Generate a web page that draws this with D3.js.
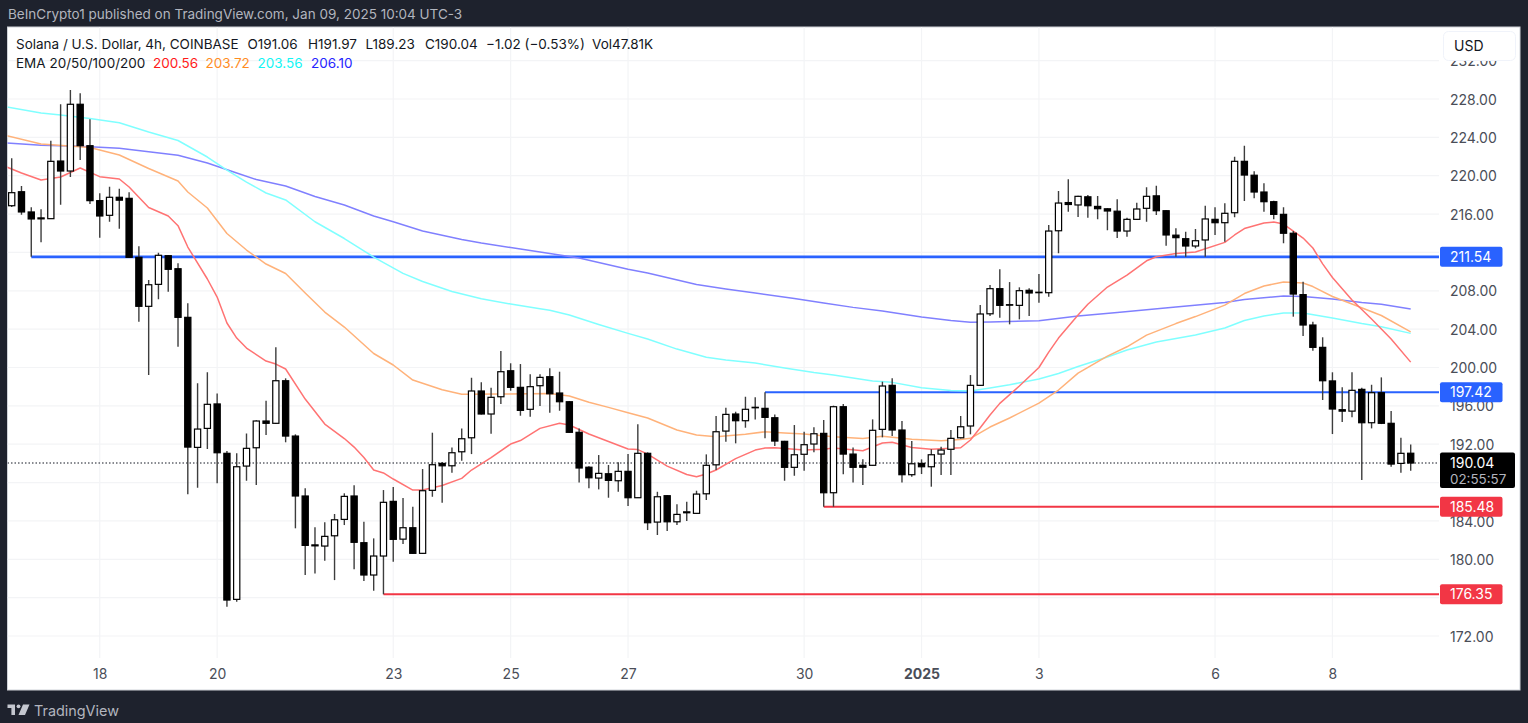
<!DOCTYPE html>
<html>
<head>
<meta charset="utf-8">
<script src="https://cdn.jsdelivr.net/npm/d3@7"></script>
<style>
  html, body { margin: 0; padding: 0; background: #1e222d; overflow: hidden; }
  svg { display: block; }
  text { font-family: Inter, Roboto, sans-serif; }
</style>
</head>
<body>
<div id="chart"></div>
<script>
const candleOpen = [216.87,218.33,216.22,215.6,215.52,221.53,220.49,227.45,223.13,217.4,215.87,217.75,217.64,211.49,206.38,208.67,211.66,210.3,205.23,191.67,193.65,196.2,191.05,175.82,189.72,191.63,194.42,194.18,198.62,192.85,186.6,181.5,181.38,182.45,184.16,186.6,181.73,178.36,180.34,186.04,182.1,183.29,180.62,187.19,190,189.75,191.21,192.67,197.55,195.15,196.95,199.66,197.93,195.64,198.1,199.04,197.34,196.43,193.24,189.6,188.47,188.92,188.19,189.17,186.42,191.05,183.88,186.63,183.91,184.85,184.79,186.83,189.85,193.37,195.15,194.45,195.85,195.74,194.76,192.3,189.59,190.95,192.02,193.13,186.94,195.91,190.97,189.8,189.8,193.55,198.14,193.48,188.82,190,189.65,190.97,191.47,192.67,193.9,198.14,205.6,208.22,206.55,206.48,208.05,207.85,207.8,214.26,217.2,216.95,217.8,216.8,216.55,216.3,214.23,215.45,216.6,217.9,216.35,213.8,213.43,212.67,213.3,215.45,215.1,216.14,221.5,220.05,218.3,217.29,215.97,214,207.6,204.43,202.1,198.6,195.6,195.45,197.72,194.24,197.37,194.18,190,191.06]
const candleHigh = [221.82,218.93,216.7,216.5,223.65,227.45,228.94,228.6,225.88,218.17,218.85,218.65,218.27,212.64,209.12,211.97,211.73,210.86,206.7,198.35,199.5,197.3,191.29,191.05,193.13,194.5,196.53,202.1,198.87,193.03,187.4,183.33,183.85,184.72,186.88,187.71,183.91,182.18,187.22,187.53,186.39,185.48,189.41,193.2,190.14,191.67,193.65,198.93,198.45,197.89,201.72,200.44,200.36,199.29,199.29,199.91,199.56,196.5,193.65,189.7,190.87,189.83,190.11,190.97,194.07,191.15,187.04,186.7,185.73,186,187.15,190.94,194.94,195.8,195.39,196.95,196.89,197.42,195.11,192.35,194,193.3,193.76,194.52,196.02,196.19,191.67,190.42,194.59,198.52,198.87,194.42,192.33,190.42,191.47,191.73,193.48,194.94,199.21,206.52,208.6,210.24,208.91,208.36,208.26,209.75,214.86,218.4,219.62,217.9,217.99,217.88,216.6,217.54,215.62,217.18,218.79,218.96,216.4,214.51,214.16,214.44,216.87,216.7,217.12,221.98,223.13,220.46,219.21,217.4,216.7,214.23,208.95,204.77,203.15,199.5,197.93,199.5,197.89,198.2,198.97,195.46,192.67,191.97]
const candleLow = [216.74,215.93,211.54,213.05,215.5,216.98,219.87,221.64,217.05,213.54,215.2,214.47,211.45,204.77,199.21,207.11,207.9,202.17,186.77,187.46,191.5,187.92,175.05,175.57,188.19,187.74,192.96,194.1,192.2,183.23,178.36,178.53,179.85,177.83,183.57,178.95,177.73,176.72,176.35,179.74,181.59,180.55,180.55,186.52,185.9,189.02,190.28,190.97,195.1,193.09,196.19,197.58,194.97,194.87,195.98,195.28,195.49,193.2,188.02,187.4,187.29,186.42,187.04,185.55,186.4,183.05,182.53,182.94,183.57,183.99,184.75,186.18,189.31,192.26,192.09,193.72,194.59,192.61,191.81,188.19,188.71,189.23,191.15,185.48,185.48,188.86,188.02,187.74,189.75,192.72,192.85,188.02,188.61,188.89,187.57,188.79,188.79,192.6,193.03,198.1,205.37,205.19,204.5,205.02,205.37,206.76,207.38,211.91,216.25,215.69,215.62,215.45,214.31,213.5,213.64,215.38,215.2,215.9,212.7,211.54,211.54,212.43,211.54,213.82,213.12,215.66,217.36,217.64,216.25,215.45,212.95,205.3,203.28,201.75,196.61,193.06,194.31,194.8,188.26,193.65,194.1,189.65,189.02,189.23]
const candleClose = [218.23,216.22,215.49,215.5,221.5,220.49,227.45,223.13,217.4,215.8,217.75,217.45,211.49,206.38,208.63,211.7,210.24,205.23,191.7,193.58,196.16,191.11,175.75,189.65,191.57,194.42,194.18,198.62,192.85,186.6,181.45,181.4,182.39,184.12,186.56,181.77,178.36,180.34,185.94,182.08,183.29,180.62,187.15,189.86,189.75,191.11,192.57,197.55,195.15,196.89,199.56,197.93,195.53,198,198.97,197.26,196.43,193.24,189.52,188.5,188.96,188.23,189.17,186.42,191.05,183.81,186.52,183.91,184.68,184.95,186.8,189.8,193.3,195.11,194.45,195.64,195.8,194.8,192.33,189.59,190.9,191.95,193.09,186.94,195.91,190.97,189.59,189.6,193.45,198.07,193.48,188.82,189.96,189.65,190.9,191.39,192.61,193.82,198.14,205.58,208.22,206.48,206.5,208.01,207.77,207.8,214.23,217.15,217,217.85,216.87,216.56,216.32,214.23,215.45,216.53,217.85,216.35,213.82,213.54,212.67,213.22,215.49,215.1,216.08,221.5,220.07,218.3,217.29,215.97,214,207.66,204.43,202.1,198.62,195.67,195.45,197.62,194.24,197.37,194.18,189.93,191.05,190.04]

// each ema line: candle index it was read at, price there
const ema20 = [[-1,221.12],[1,220.28],[3,219.55],[5,219.87],[7,220.8],[9,219.9],[11,219.66],[12,218.82],[14,216.68],[16,215.8],[17,214.79],[18,212.56],[20,209.23],[21,207.35],[22,204.64],[23,203.07],[24,202.03],[26,200.67],[27,200.36],[28,199.84],[30,196.71],[32,194.1],[34,192.59],[35,191.7],[36,190.61],[37,189.31],[38,189],[39,188.37],[41,187.22],[42,187.22],[43,187.46],[44,187.69],[46,188.44],[47,189.31],[49,190.61],[51,192.02],[52,192.38],[54,193.65],[56,194.18],[57,194],[59,193.06],[61,192.28],[63,191.5],[64,191.44],[65,190.97],[67,189.72],[69,188.84],[70,188.61],[71,188.89],[72,189.31],[74,190.5],[76,191.39],[77,191.6],[78,191.63],[81,191.39],[83,191.47],[84,191.6],[87,191.32],[89,192.12],[90,192.2],[92,191.65],[94,191.47],[97,191.63],[98,192.44],[99,193.72],[100,195.04],[101,196.26],[103,198.07],[105,200],[106,201.61],[107,203.07],[109,205.47],[110,206.59],[112,208.39],[114,209.64],[116,211.13],[117,211.55],[119,211.89],[121,212.04],[124,213.05],[125,213.82],[126,214.49],[128,215.07],[129,215.17],[130,214.96],[132,213.5],[133,212.46],[134,210.8],[135,209.38],[137,207.04],[139,205.05],[141,202.97],[143,200.56]]
const ema50 = [[-1,224.3],[3,223.31],[8,222.94],[11,222.16],[14,220.75],[17,219.45],[18,218.3],[20,216.63],[22,213.97],[24,212.25],[26,210.79],[28,209.8],[30,207.77],[32,205.78],[34,204.22],[37,201.46],[39,200.26],[41,198.69],[44,197.68],[46,197.2],[50,197.23],[55,197.28],[57,197.02],[59,196.37],[61,195.84],[63,195.28],[65,194.73],[68,193.48],[70,192.96],[72,192.78],[75,193.03],[77,193.3],[79,193.16],[81,193.06],[84,192.78],[87,192.59],[89,192.82],[92,192.51],[95,192.36],[97,192.49],[98,192.61],[100,193.79],[102,194.73],[105,196.29],[107,197.65],[109,199.42],[112,201.19],[114,202.16],[116,203.38],[119,204.58],[121,205.31],[124,206.51],[126,207.71],[128,208.5],[130,208.91],[132,208.81],[133,208.44],[135,207.4],[137,206.62],[140,205.42],[143,203.72]]
const ema100 = [[-1,227.27],[3,226.54],[5,226.33],[8,225.97],[11,225.53],[14,224.56],[17,223.67],[20,221.95],[22,220.59],[24,219.34],[26,218.2],[28,217.47],[31,215.2],[34,213.45],[37,211.52],[40,209.82],[42,208.97],[45,207.92],[48,207.17],[51,206.62],[54,206.13],[55,205.96],[57,205.47],[60,204.48],[63,203.56],[65,202.97],[68,201.92],[71,201.06],[73,200.78],[76,200.46],[79,199.94],[82,199.47],[84,199.21],[88,198.59],[90,198.45],[93,197.89],[96,197.6],[98,197.54],[100,197.86],[102,198.2],[105,198.8],[107,199.37],[109,200.1],[112,201.09],[114,201.82],[117,202.66],[121,203.38],[124,204.12],[126,204.9],[128,205.37],[130,205.68],[132,205.68],[135,205.16],[138,204.58],[140,204.25],[143,203.56]]
const ema200 = [[-1,223.46],[3,223.17],[6,223.1],[8,223.03],[11,222.86],[14,222.49],[17,222.13],[20,221.32],[23,220.28],[25,219.6],[28,218.93],[31,217.83],[34,216.94],[37,215.8],[39,215.2],[42,214.23],[46,213.35],[48,212.98],[51,212.51],[53,212.2],[58,211.42],[63,210.24],[65,209.85],[70,208.65],[73,208.18],[76,207.77],[80,207.19],[83,206.72],[86,206.27],[89,205.89],[93,205.26],[96,204.9],[98,204.71],[100,204.74],[105,204.88],[109,205.37],[113,205.73],[119,206.31],[124,206.78],[126,207.09],[130,207.45],[132,207.4],[135,207.14],[138,206.78],[140,206.59],[143,206.1]]

const levelPrices = [211.54, 197.42, 185.48, 176.35]
const levelStart = [2, 77, 83, 38]
const currentPrice = 190.04
const countdown = '02:55:57'

// 176, 188 and 212 have a grid line but their labels give way to the tags
const gridTicks = [172, 176, 180, 184, 188, 192, 196, 200, 204, 208, 212, 216, 220, 224, 228, 232]
const priceLabels = [172, 180, 184, 192, 196, 200, 204, 208, 216, 220, 224, 228, 232]
const dateTickIndex = [9, 21, 39, 51, 63, 81, 93, 105, 123, 135]
const dateTickLabels = ['18', '20', '23', '25', '27', '30', '2025', '3', '6', '8']

const w = 1528
const h = 723
const panel = { left: 7.5, top: 27, right: 1520, bottom: 690 }
const plot = { right: 1439, bottom: 658 }

const xScale = d3.scaleLinear().domain([0, 143]).range([11.7, 1410.7])
const yScale = d3.scaleLinear().domain([172, 228]).range([636, 99])

const svg = d3.select('#chart')
  .append('svg')
  .attr('width', w)
  .attr('height', h)

svg.append('rect')
  .attr('x', panel.left)
  .attr('y', panel.top)
  .attr('width', panel.right - panel.left)
  .attr('height', panel.bottom - panel.top)
  .attr('fill', '#ffffff')
  .attr('stroke', '#cfd2d8')
  .attr('stroke-width', 1)

svg.append('clipPath')
  .attr('id', 'plot-clip')
  .append('rect')
  .attr('x', panel.left)
  .attr('y', panel.top)
  .attr('width', plot.right - panel.left)
  .attr('height', plot.bottom - panel.top)

const plotArea = svg.append('g').attr('clip-path', 'url(#plot-clip)')

// grid
plotArea.append('g')
  .selectAll('line')
  .data(gridTicks)
  .enter()
  .append('line')
  .attr('x1', panel.left)
  .attr('x2', plot.right)
  .attr('y1', d => yScale(d))
  .attr('y2', d => yScale(d))
  .attr('stroke', '#f3f4f6')
  .attr('stroke-width', 1.2)

plotArea.append('g')
  .selectAll('line')
  .data(dateTickIndex)
  .enter()
  .append('line')
  .attr('x1', d => xScale(d))
  .attr('x2', d => xScale(d))
  .attr('y1', panel.top)
  .attr('y2', plot.bottom)
  .attr('stroke', '#f3f4f6')
  .attr('stroke-width', 1.2)

// last price dotted line
plotArea.append('line')
  .attr('x1', panel.left)
  .attr('x2', plot.right)
  .attr('y1', yScale(currentPrice))
  .attr('y2', yScale(currentPrice))
  .attr('stroke', '#131722')
  .attr('stroke-width', 1)
  .attr('stroke-dasharray', '1.5 2')

const levelColor = d => d > currentPrice ? '#2962ff' : '#f23645'

plotArea.append('g')
  .selectAll('line')
  .data(levelPrices)
  .enter()
  .append('line')
  .attr('x1', (d, i) => xScale(levelStart[i]))
  .attr('x2', plot.right)
  .attr('y1', d => yScale(d))
  .attr('y2', d => yScale(d))
  .attr('stroke', levelColor)
  .attr('stroke-width', (d, i) => i === 0 ? 2.6 : 2)

const emaLine = d3.line()
  .x(d => xScale(d[0]))
  .y(d => yScale(d[1]))

const emaSeries = [ema200, ema100, ema50, ema20]
const emaColors = ['#8080ff', '#80ffff', '#ffb27a', '#ff7373']

plotArea.append('g')
  .selectAll('path')
  .data(emaSeries)
  .enter()
  .append('path')
  .attr('d', emaLine)
  .attr('fill', 'none')
  .attr('stroke', (d, i) => emaColors[i])
  .attr('stroke-width', 1.5)
  .attr('stroke-linejoin', 'round')

// candles
const candles = plotArea.append('g')
  .selectAll('g')
  .data(candleOpen)
  .enter()
  .append('g')

candles.append('line')
  .attr('x1', (d, i) => xScale(i))
  .attr('x2', (d, i) => xScale(i))
  .attr('y1', (d, i) => yScale(candleHigh[i]))
  .attr('y2', (d, i) => yScale(candleLow[i]))
  .attr('stroke', '#3d3d3d')
  .attr('stroke-width', 1.4)

candles.append('rect')
  .attr('x', (d, i) => xScale(i) - 3.1)
  .attr('width', 6.2)
  .attr('y', (d, i) => yScale(Math.max(candleOpen[i], candleClose[i])))
  .attr('height', (d, i) => Math.abs(yScale(candleOpen[i]) - yScale(candleClose[i])))
  .attr('fill', (d, i) => candleClose[i] >= candleOpen[i] ? '#ffffff' : '#000000')
  .attr('stroke', '#000000')
  .attr('stroke-width', 1.2)

// price axis
const yAxis = d3.axisRight(yScale)
  .tickValues(priceLabels)
  .tickFormat(d3.format('.2f'))
  .tickSize(0)
  .tickPadding(0)

const yAxisG = svg.append('g')
  .attr('transform', 'translate(1450, 0.6)')
  .call(yAxis)

yAxisG.select('.domain').remove()
yAxisG.selectAll('text')
  .attr('font-size', 14)
  .attr('fill', '#4a4e58')
  .style('font-family', 'Inter, Roboto, sans-serif')

// date axis
const xAxis = d3.axisBottom(xScale)
  .tickValues(dateTickIndex)
  .tickFormat((d, i) => dateTickLabels[i])
  .tickSize(0)
  .tickPadding(0)

const xAxisG = svg.append('g')
  .attr('transform', 'translate(0, 669)')
  .call(xAxis)

xAxisG.select('.domain').remove()
xAxisG.selectAll('text')
  .attr('font-size', 14)
  .attr('fill', '#4a4e58')
  .attr('font-weight', (d, i) => dateTickLabels[i] === '2025' ? 700 : 400)
  .style('font-family', 'Inter, Roboto, sans-serif')

// USD button, sits over the clipped top tick label
svg.append('rect')
  .attr('x', 1443.5)
  .attr('y', 31.5)
  .attr('width', 72)
  .attr('height', 29)
  .attr('rx', 5)
  .attr('fill', '#ffffff')
  .attr('stroke', '#f0f3fa')

svg.append('text')
  .attr('x', 1454)
  .attr('y', 50.5)
  .attr('font-size', 14)
  .attr('fill', '#131722')
  .text('USD')

// level tags
const tags = svg.append('g')
  .selectAll('g')
  .data(levelPrices)
  .enter()
  .append('g')
  .attr('transform', d => 'translate(1440, ' + yScale(d) + ')')

tags.append('rect')
  .attr('x', 0)
  .attr('y', -10)
  .attr('width', 62.5)
  .attr('height', 20)
  .attr('rx', 2)
  .attr('fill', levelColor)

tags.append('text')
  .attr('x', 10)
  .attr('y', 5.2)
  .attr('font-size', 14)
  .attr('fill', '#ffffff')
  .text(d => d.toFixed(2))

// last price tag
const lastTag = svg.append('g')
  .attr('transform', 'translate(1440, ' + yScale(currentPrice) + ')')

lastTag.append('rect')
  .attr('x', 0)
  .attr('y', -10.5)
  .attr('width', 75)
  .attr('height', 35.5)
  .attr('rx', 2)
  .attr('fill', '#000000')

lastTag.append('text')
  .attr('x', 10)
  .attr('y', 5.2)
  .attr('font-size', 14)
  .attr('fill', '#ffffff')
  .text(currentPrice.toFixed(2))

lastTag.append('text')
  .attr('x', 10)
  .attr('y', 20.5)
  .attr('font-size', 13.4)
  .attr('fill', '#b2b5be')
  .text(countdown)

// page header and legend
svg.append('text')
  .attr('x', 8)
  .attr('y', 19)
  .attr('font-size', 13.5)
  .attr('fill', '#b2b5be')
  .text('BeInCrypto1 published on TradingView.com, Jan 09, 2025 10:04 UTC-3')

const legendRow1 = [
  ['Solana / U.S. Dollar, 4h, COINBASE', 16],
  ['O191.06', 247.5],
  ['H191.97', 308],
  ['L189.23', 365.5],
  ['C190.04', 425],
  ['\u22121.02 (\u22120.53%)', 486],
  ['Vol47.81K', 592]
]

svg.append('g')
  .selectAll('text')
  .data(legendRow1)
  .enter()
  .append('text')
  .attr('x', d => d[1])
  .attr('y', 49)
  .attr('font-size', 13.5)
  .attr('fill', '#131722')
  .text(d => d[0])

const legendRow2 = [
  ['EMA 20/50/100/200', 16, '#131722'],
  ['200.56', 153, '#ff1a1a'],
  ['203.72', 205.5, '#ff8c1f'],
  ['203.56', 257.5, '#12f5f5'],
  ['206.10', 311, '#2525ff']
]

svg.append('g')
  .selectAll('text')
  .data(legendRow2)
  .enter()
  .append('text')
  .attr('x', d => d[1])
  .attr('y', 68)
  .attr('font-size', 13.5)
  .attr('fill', d => d[2])
  .text(d => d[0])

// tradingview footer
svg.append('path')
  .attr('d', 'M7.5 704.5h7.5v10.5h-3.6v-7h-3.9z M23 704.5h6.5l-4.5 10.5h-6.5z')
  .attr('fill', '#c4c7cf')

svg.append('circle')
  .attr('cx', 18.5)
  .attr('cy', 706.3)
  .attr('r', 1.9)
  .attr('fill', '#c4c7cf')

svg.append('text')
  .attr('x', 34)
  .attr('y', 716)
  .attr('font-size', 14.4)
  .attr('fill', '#b2b5be')
  .text('TradingView')
</script>
</body>
</html>
